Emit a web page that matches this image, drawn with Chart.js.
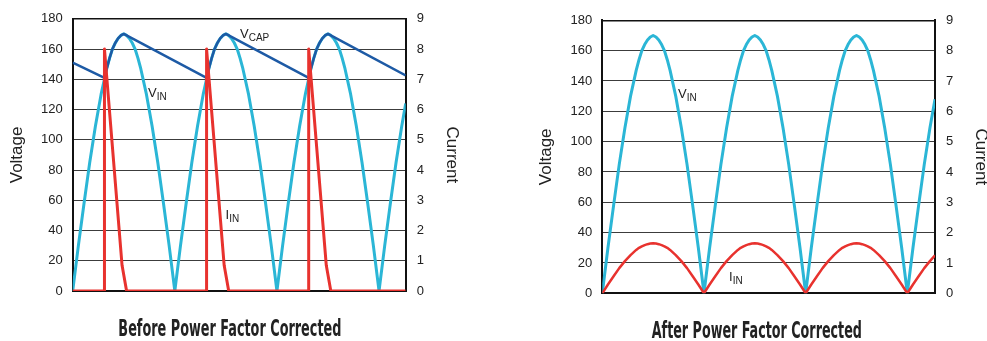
<!DOCTYPE html>
<html>
<head>
<meta charset="utf-8">
<script src="https://cdn.jsdelivr.net/npm/chart.js@4.4.1/dist/chart.umd.min.js"></script>
<style>
  html, body { margin: 0; padding: 0; background: #fff; }
  body { width: 987px; height: 341px; position: relative; overflow: hidden; font-family: "Liberation Sans", Arial, sans-serif; }
  canvas { position: absolute; top: 0; }
  .lbl { position: absolute; font-size: 13px; line-height: 1; color: #222; white-space: nowrap; }
  .lbl sub { font-size: 10px; vertical-align: baseline; position: relative; top: 3px; }
  .cap { position: absolute; font-family: "Liberation Sans Narrow", "DejaVu Sans Condensed", sans-serif; font-weight: bold;
         font-size: 23px; line-height: 1; color: #222; white-space: nowrap; transform-origin: center top; }
</style>
</head>
<body>
<canvas id="before" width="470" height="341" style="left:0;width:470px;height:341px"></canvas>
<canvas id="after" width="458" height="341" style="left:529px;width:458px;height:341px"></canvas>

<div class="lbl" style="left:240px;top:26.5px">V<sub>CAP</sub></div>
<div class="lbl" style="left:148px;top:86px">V<sub>IN</sub></div>
<div class="lbl" style="left:225.5px;top:208px">I<sub>IN</sub></div>
<div class="lbl" style="left:678px;top:87px">V<sub>IN</sub></div>
<div class="lbl" style="left:729px;top:270px">I<sub>IN</sub></div>

<div class="cap" id="capBefore">Before Power Factor Corrected</div>
<div class="cap" id="capAfter">After Power Factor Corrected</div>

<script>
// Phase of the rectified line voltage, in degrees (180 = one half cycle)
const beforePhase = [0, 10, 20, 30, 40, 50, 60, 65, 70, 75, 80, 85, 90, 95, 100, 105, 110, 115, 120, 130, 140, 150, 160, 170,
    180, 190, 200, 210, 220, 230, 240, 245, 250, 255, 260, 265, 270, 275, 280, 285, 290, 295, 300, 310, 320, 330, 340, 350,
    360, 370, 380, 390, 400, 410, 420, 425, 430, 435, 440, 445, 450, 455, 460, 465, 470, 475, 480, 490, 500, 510, 520, 530,
    540, 550, 560, 570, 580, 587];
const afterPhase = [0, 10, 20, 30, 40, 50, 60, 65, 70, 75, 80, 85, 90, 95, 100, 105, 110, 115, 120, 130, 140, 150, 160, 170,
    180, 190, 200, 210, 220, 230, 240, 245, 250, 255, 260, 265, 270, 275, 280, 285, 290, 295, 300, 310, 320, 330, 340, 350,
    360, 370, 380, 390, 400, 410, 420, 425, 430, 435, 440, 445, 450, 455, 460, 465, 470, 475, 480, 490, 500, 510, 520, 530,
    540, 550, 560, 570, 580, 589];

// Before PFC: input voltage (V)
const beforeVin = [0, 30, 58, 85, 109, 130, 147, 154, 160, 164, 167, 169, 170, 169, 167, 164, 160, 154, 147, 130, 109, 85, 58, 30,
    0, 30, 58, 85, 109, 130, 147, 154, 160, 164, 167, 169, 170, 169, 167, 164, 160, 154, 147, 130, 109, 85, 58, 30,
    0, 30, 58, 85, 109, 130, 147, 154, 160, 164, 167, 169, 170, 169, 167, 164, 160, 154, 147, 130, 109, 85, 58, 30,
    0, 30, 58, 85, 109, 124];

// Before PFC: capacitor voltage (V)
const vcapPhase = [0, 56, 60, 65, 70, 75, 80, 85, 90, 236, 240, 245, 250, 255, 260, 265, 270,
    416, 420, 425, 430, 435, 440, 445, 450, 587];
const beforeVcap = [151, 141, 147, 154, 160, 164, 167, 169, 170, 141, 147, 154, 160, 164, 167, 169, 170,
    141, 147, 154, 160, 164, 167, 169, 170, 142.5];

// Before PFC: input current (A)
const iinPhase = [0, 56, 56, 87, 95, 236, 236, 267, 275, 416, 416, 447, 455, 587];
const beforeIin = [0, 0, 8, 0.85, 0, 0, 8, 0.85, 0, 0, 8, 0.85, 0, 0];

// After PFC: input voltage (V) and current (A)
const afterVin = [0, 30, 58, 85, 109, 130, 147, 154, 160, 164, 167, 169, 170, 169, 167, 164, 160, 154, 147, 130, 109, 85, 58, 30,
    0, 30, 58, 85, 109, 130, 147, 154, 160, 164, 167, 169, 170, 169, 167, 164, 160, 154, 147, 130, 109, 85, 58, 30,
    0, 30, 58, 85, 109, 130, 147, 154, 160, 164, 167, 169, 170, 169, 167, 164, 160, 154, 147, 130, 109, 85, 58, 30,
    0, 30, 58, 85, 109, 128];
const afterIin = [0, 0.29, 0.56, 0.83, 1.06, 1.26, 1.43, 1.50, 1.55, 1.59, 1.62, 1.64, 1.65, 1.64, 1.62, 1.59, 1.55, 1.50, 1.43, 1.26, 1.06, 0.83, 0.56, 0.29,
    0, 0.29, 0.56, 0.83, 1.06, 1.26, 1.43, 1.50, 1.55, 1.59, 1.62, 1.64, 1.65, 1.64, 1.62, 1.59, 1.55, 1.50, 1.43, 1.26, 1.06, 0.83, 0.56, 0.29,
    0, 0.29, 0.56, 0.83, 1.06, 1.26, 1.43, 1.50, 1.55, 1.59, 1.62, 1.64, 1.65, 1.64, 1.62, 1.59, 1.55, 1.50, 1.43, 1.26, 1.06, 0.83, 0.56, 0.29,
    0, 0.29, 0.56, 0.83, 1.06, 1.25];

const voltTicks = [0, 20, 40, 60, 80, 100, 120, 140, 160, 180];
const ampTicks = [0, 1, 2, 3, 4, 5, 6, 7, 8, 9];

const CYAN = '#2bb6d6';
const NAVY = '#1d5aa5';
const RED = '#e8322e';
const TEXT = '#222';

const toPts = (xs, ys) => xs.map((x, i) => ({ x: x, y: ys[i] }));

function lineSet(label, xs, ys, color, width, axis, order) {
    return {
        label: label,
        data: toPts(xs, ys),
        borderColor: color,
        borderWidth: width,
        pointRadius: 0,
        tension: 0,
        fill: false,
        yAxisID: axis,
        order: order,
        borderJoinStyle: 'round'
    };
}

/**
 * Build one of the two scope-style panels
 * g holds the pixel geometry of the panel
 */
function makePanel(canvasId, datasets, xMax, g) {
    const ctx = document.getElementById(canvasId).getContext('2d');
    return new Chart(ctx, {
        type: 'line',
        data: { datasets: datasets },
        options: {
            responsive: false,
            animation: false,
            events: [],
            layout: { padding: { top: g.top, bottom: g.bottom, left: 0, right: 0 } },
            plugins: { legend: { display: false }, tooltip: { enabled: false } },
            scales: {
                x: { type: 'linear', min: 0, max: xMax, display: false },
                y: {
                    position: 'left',
                    min: 0, max: 180,
                    afterBuildTicks: s => { s.ticks = voltTicks.map(v => ({ value: v })); },
                    afterFit: s => { s.width = g.leftW; },
                    ticks: { padding: 10, color: TEXT, font: { family: 'Liberation Sans', size: 13 } },
                    grid: {
                        drawTicks: false,
                        color: c => (c.tick && (c.tick.value === 0 || c.tick.value === 180)) ? '#111' : '#3c3c3c',
                        lineWidth: c => (c.tick && c.tick.value === 0) ? 2 : (c.tick && c.tick.value === 180 ? 1.5 : 1)
                    },
                    border: { display: true, color: '#111', width: 2 },
                    title: {
                        display: true, text: 'Voltage', color: TEXT,
                        font: { family: 'Liberation Sans', size: 17, lineHeight: 1.2 },
                        padding: { top: g.voltPad, bottom: 0 }
                    }
                },
                y1: {
                    position: 'right',
                    min: 0, max: 9,
                    afterBuildTicks: s => { s.ticks = ampTicks.map(v => ({ value: v })); },
                    afterFit: s => { s.width = g.rightW; },
                    ticks: { padding: 11, color: TEXT, font: { family: 'Liberation Sans', size: 13 } },
                    grid: { display: false, drawTicks: false },
                    border: { display: true, color: '#111', width: 2 },
                    title: {
                        display: true, text: 'Current', color: TEXT,
                        font: { family: 'Liberation Sans', size: 17, lineHeight: g.ampLH },
                        padding: { top: g.ampPad, bottom: 0 }
                    }
                }
            }
        }
    });
}

makePanel('before', [
    lineSet('IIN', iinPhase, beforeIin, RED, 3, 'y1', 0),
    lineSet('VCAP', vcapPhase, beforeVcap, NAVY, 2.5, 'y', 1),
    lineSet('VIN', beforePhase, beforeVin, CYAN, 3, 'y', 2)
], 587, { top: 17.3, bottom: 50, leftW: 72.7, rightW: 64.3, voltPad: 7.4, ampLH: 1.2, ampPad: 8.4 });

makePanel('after', [
    lineSet('IIN', afterPhase, afterIin, RED, 2.5, 'y1', 0),
    lineSet('VIN', afterPhase, afterVin, CYAN, 3, 'y', 1)
], 589, { top: 20.3, bottom: 47.7, leftW: 73.3, rightW: 52, voltPad: 6.9, ampLH: 0.8, ampPad: 0 });

// Captions under each panel, squeezed to the width of the condensed face
function placeCaption(id, cx, top, w) {
    const el = document.getElementById(id);
    const nat = el.getBoundingClientRect().width;
    el.style.left = (cx - nat / 2) + 'px';
    el.style.top = top + 'px';
    el.style.transform = 'scaleX(' + (w / nat).toFixed(3) + ')';
}
placeCaption('capBefore', 229.5, 317.3, 223);
placeCaption('capAfter', 756.7, 319, 210);
</script>
</body>
</html>
